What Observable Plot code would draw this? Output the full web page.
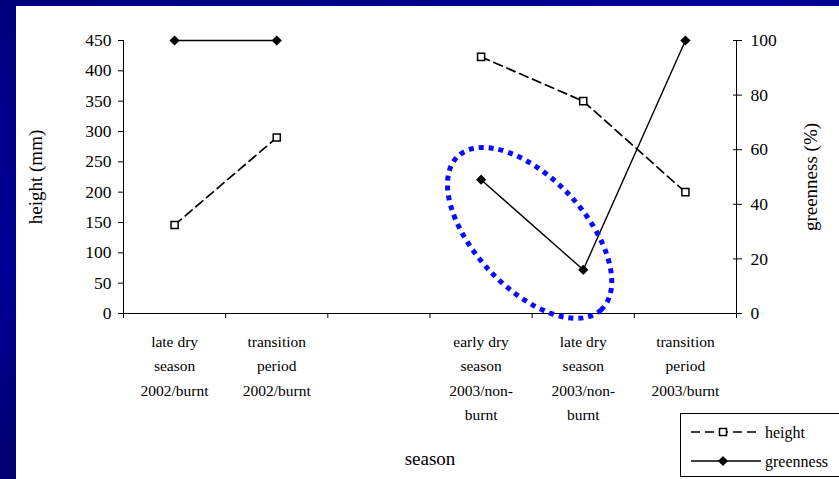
<!DOCTYPE html>
<html>
<head>
<meta charset="utf-8">
<script src="https://cdn.jsdelivr.net/npm/d3@7"></script>
<script src="https://cdn.jsdelivr.net/npm/@observablehq/plot@0.6"></script>
<style>
  html, body { margin: 0; padding: 0; }
  body {
    width: 839px; height: 479px; overflow: hidden; position: relative;
    background: linear-gradient(160deg, #00007c 0%, #000096 35%, #00006e 60%, #00008e 100%);
    font-family: "Liberation Serif", "Times New Roman", serif;
  }
  #panel { position: absolute; left: 16px; top: 6px; width: 823px; height: 473px; background: #fff; }
  #panel svg { display: block; }
  #legend {
    position: absolute; left: 664px; top: 407px; width: 182px; height: 64px;
    border: 1px solid #000; background: #fff; box-sizing: border-box;
  }
</style>
</head>
<body>
<div id="panel"><div id="legend"></div></div>
<script>
// ---- data ----
const categories = [
  "late dry\nseason\n2002/burnt",
  "transition\nperiod\n2002/burnt",
  "",
  "early dry\nseason\n2003/non-\nburnt",
  "late dry\nseason\n2003/non-\nburnt",
  "transition\nperiod\n2003/burnt"
];
const heightMM  = [146, 290, null, 423, 350, 200];
const greenness = [100, 100, null, 49, 16, 100];
const heightTicks = [0, 50, 100, 150, 200, 250, 300, 350, 400, 450];
const greenTicks = [0, 20, 40, 60, 80, 100];
const seriesNames = ["height", "greenness"];
// highlighted region (centre in category index / height units)
const ringCenter = [3.48, 132];

// ---- build ----
const scaleG = 450 / 100; // greenness -> height axis units
const idx = categories.map((_, i) => i);
const rows = idx.map(i => ({
  i,
  h: heightMM[i] == null ? NaN : heightMM[i],
  g: greenness[i] == null ? NaN : greenness[i] * scaleG
}));

const ringMark = (index, scales) => {
  const cx = scales.x(ringCenter[0]);
  const cy = scales.y(ringCenter[1]);
  const ns = "http://www.w3.org/2000/svg";
  const el = document.createElementNS(ns, "ellipse");
  el.setAttribute("cx", cx);
  el.setAttribute("cy", cy);
  el.setAttribute("rx", 105);
  el.setAttribute("ry", 55);
  el.setAttribute("transform", `rotate(47 ${cx} ${cy})`);
  el.setAttribute("fill", "none");
  el.setAttribute("stroke", "#0a0aff");
  el.setAttribute("stroke-width", 5);
  el.setAttribute("stroke-dasharray", "5,5");
  return el;
};

const font = '"Liberation Serif", "Times New Roman", serif';

const chart = Plot.plot({
  width: 823,
  height: 473,
  marginLeft: 107,
  marginRight: 103,
  marginTop: 34,
  marginBottom: 166,
  x: { type: "linear", domain: [-0.5, 5.5] },
  y: { domain: [0, 450] },
  style: { fontFamily: font, fontSize: "16px", color: "#000", background: "transparent", overflow: "visible" },
  marks: [
    Plot.ruleX([-0.5, 5.5], { stroke: "#000", strokeWidth: 1 }),
    Plot.ruleY([0], { stroke: "#000", strokeWidth: 1 }),
    Plot.axisX({ ticks: d3.range(-0.5, 6, 1), tickSize: 5, tickFormat: () => "", label: null, stroke: "#000" }),
    Plot.axisX({ ticks: idx, tickSize: 0, tickPadding: 16, tickFormat: i => categories[i], lineHeight: 1.58, fontSize: 15.5, label: null, fill: "#000" }),
    Plot.axisY({ ticks: heightTicks, tickSize: 5, tickPadding: 7, label: null, fontSize: 17.5, fill: "#000", stroke: "#000" }),
    Plot.axisY({ anchor: "right", ticks: greenTicks.map(v => v * scaleG), tickFormat: v => Math.round(v / scaleG), tickSize: 9, dx: -4, tickPadding: 9, label: null, fontSize: 17.5, fill: "#000", stroke: "#000" }),
    Plot.text(["height (mm)"], { text: d => d, frameAnchor: "left", textAnchor: "middle", rotate: -90, dx: -88, fontSize: 19, fill: "#000" }),
    Plot.text(["greenness (%)"], { text: d => d, frameAnchor: "right", textAnchor: "middle", rotate: -90, dx: 74, fontSize: 19, fill: "#000" }),
    Plot.text(["season"], { text: d => d, frameAnchor: "bottom", dy: 151, fontSize: 19, fill: "#000", letterSpacing: "1px" }),
    Plot.line(rows, { x: "i", y: "h", stroke: "#000", strokeWidth: 1.7, strokeDasharray: "9,5" }),
    Plot.line(rows, { x: "i", y: "g", stroke: "#000", strokeWidth: 1.4 }),
    Plot.dot(rows, { x: "i", y: "h", symbol: "square", r: 4, fill: "#fff", stroke: "#000", strokeWidth: 1.5 }),
    Plot.dot(rows, { x: "i", y: "g", symbol: "diamond2", r: 4.6, fill: "#000", stroke: "none" }),
    ringMark
  ]
});
document.getElementById("panel").insertBefore(chart, document.getElementById("legend"));

// ---- legend ----
const lg = d3.select("#legend").append("svg").attr("width", 182).attr("height", 62)
  .style("font-family", font).style("font-size", "16px");
const rowY = [18, 47];
// height row
lg.append("line").attr("x1", 10).attr("x2", 80).attr("y1", rowY[0]).attr("y2", rowY[0])
  .attr("stroke", "#000").attr("stroke-width", 1.7).attr("stroke-dasharray", "9,5");
lg.append("rect").attr("x", 38.5).attr("y", rowY[0] - 3.5).attr("width", 7).attr("height", 7)
  .attr("fill", "#fff").attr("stroke", "#000").attr("stroke-width", 1.5);
lg.append("text").attr("x", 84).attr("y", rowY[0]).attr("dy", "0.35em").text(seriesNames[0]);
// greenness row
lg.append("line").attr("x1", 10).attr("x2", 80).attr("y1", rowY[1]).attr("y2", rowY[1])
  .attr("stroke", "#000").attr("stroke-width", 1.4);
lg.append("path").attr("d", `M42,${rowY[1] - 5}L47,${rowY[1]}L42,${rowY[1] + 5}L37,${rowY[1]}Z`).attr("fill", "#000");
lg.append("text").attr("x", 84).attr("y", rowY[1]).attr("dy", "0.35em").text(seriesNames[1]);
</script>
</body>
</html>
